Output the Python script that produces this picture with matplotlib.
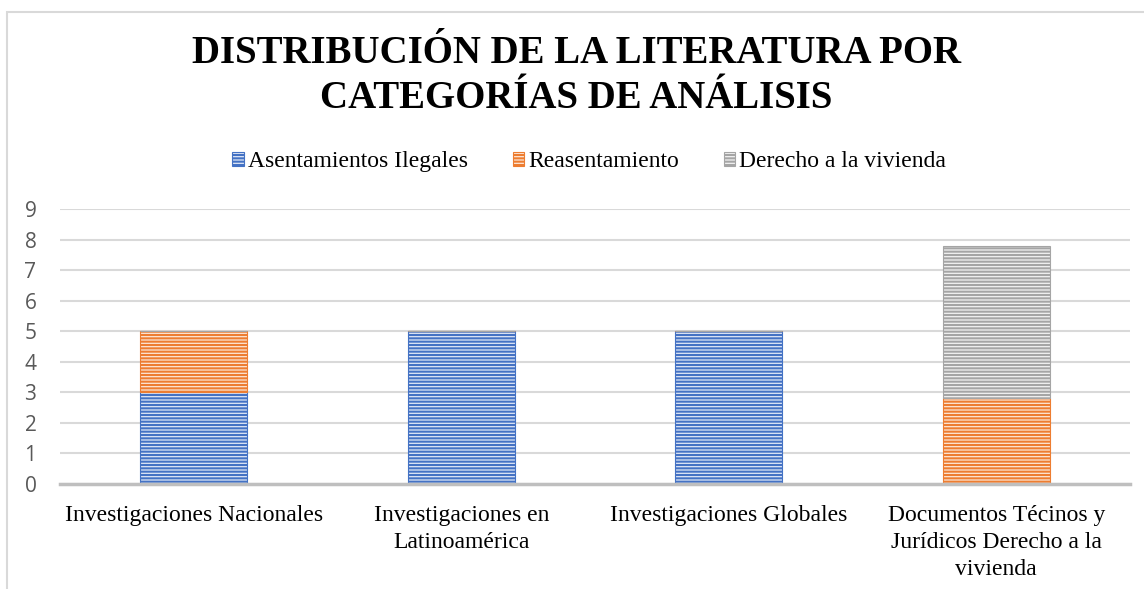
import matplotlib
matplotlib.use("Agg")
import matplotlib.pyplot as plt
from matplotlib.patches import Rectangle
import numpy as np

categorias = ["Investigaciones Nacionales",
              "Investigaciones en\nLatinoamérica",
              "Investigaciones Globales",
              "Documentos Técinos y\nJurídicos Derecho a la\nvivienda"]
asentamientos = [3, 5, 5, 0]
reasentamiento = [2, 0, 0, 2.8]
derecho = [0, 0, 0, 5]

series = ["Asentamientos Ilegales", "Reasentamiento", "Derecho a la vivienda"]
colores = ["#4472C4", "#ED7D31", "#A5A5A5"]
fondos = ["#dfe7f6", "#fde6d6", "#f2f2f2"]

plt.rcParams['hatch.linewidth'] = 1.5

fig = plt.figure(figsize=(11.44, 5.89), dpi=100)
ax = fig.add_axes([60/1144, 1-484/589, 1070/1144, 275/589])

# marco del grafico
fig.patches.append(Rectangle((7/1144, -0.05), 1.2, 1-12/589+0.05, transform=fig.transFigure,
                             fill=False, edgecolor="#d9d9d9", linewidth=1.5))

x = np.arange(len(categorias))
abajo = np.zeros(len(categorias))
for vals, nombre, c, f in zip([asentamientos, reasentamiento, derecho], series, colores, fondos):
    ax.bar(x, vals, 0.40, bottom=abajo, color=f, edgecolor=c, hatch="-----",
           linewidth=0.8, label=nombre)
    abajo += np.array(vals)

ax.set_xlim(-0.5, 3.5)
ax.set_ylim(0, 9)
ax.set_yticks(range(10))
ax.yaxis.grid(True, color="#d9d9d9", linewidth=1.5)
ax.set_axisbelow(True)
for s in ["top", "right", "left"]:
    ax.spines[s].set_visible(False)
ax.spines["bottom"].set_color("#bfbfbf")
ax.spines["bottom"].set_linewidth(2.5)
ax.tick_params(axis="both", length=0)
ax.tick_params(axis="y", labelsize=15, labelcolor="#595959", pad=17)
for t in ax.get_yticklabels():
    t.set_fontfamily("Open Sans")
ax.set_xticks(x)
ax.set_xticklabels(categorias, fontsize=17, fontfamily="Liberation Serif",
                   linespacing=1.38)
ax.tick_params(axis="x", pad=15)

fig.text(0.504, 1-76/589, "DISTRIBUCIÓN DE LA LITERATURA POR\nCATEGORÍAS DE ANÁLISIS",
         ha="center", va="center", fontsize=28, fontweight="bold",
         fontfamily="Liberation Serif", linespacing=1.3)

fig.legend(loc="center", bbox_to_anchor=(0.515, 1-162/589), ncol=3, frameon=False,
           prop={"family": "Liberation Serif", "size": 17},
           handlelength=0.5, handleheight=0.5, handletextpad=0.15, columnspacing=1.9)

fig.savefig("out.png", dpi=100)
